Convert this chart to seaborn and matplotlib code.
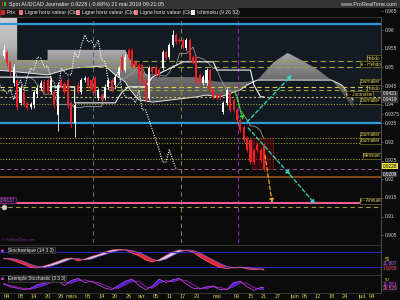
import numpy as np
import pandas as pd
import matplotlib
matplotlib.use("Agg")
import matplotlib.pyplot as plt
import matplotlib.colors as mcolors
import matplotlib.path as mpath
import matplotlib.transforms as mtrans
from matplotlib.patches import Rectangle, FancyArrowPatch
import seaborn as sns

# ---------------- data ----------------
dates = pd.bdate_range("2019-02-01", "2019-07-05")

opens = [0.9531, 0.9541, 0.9515, 0.9458, 0.9466, 0.9405, 0.9434, 0.9405, 0.9394, 0.9399,
         0.9429, 0.9445, 0.9461, 0.9466, 0.9434, 0.9434, 0.9372, 0.9466, 0.9456, 0.9466,
         0.9405, 0.9351, 0.9453, 0.9434, 0.9466, 0.9472, 0.9466, 0.9472, 0.9418, 0.9426,
         0.9418, 0.9448, 0.9466, 0.9453, 0.9480, 0.9528, 0.9493, 0.9547, 0.9547, 0.9515,
         0.9507, 0.9507, 0.9466, 0.9418, 0.9498, 0.9501, 0.9493, 0.9498, 0.9541, 0.9528,
         0.9560, 0.9587, 0.9574, 0.9574, 0.9552, 0.9574, 0.9528, 0.9528, 0.9480, 0.9458,
         0.9458, 0.9493, 0.9440, 0.9426, 0.9426, 0.9381, 0.9405, 0.9431, 0.9413, 0.9386,
         0.9359, 0.9340, 0.9311, 0.9306, 0.9279, 0.9292, 0.9279, 0.9292]
closes = [0.9547, 0.9512, 0.9488, 0.9501, 0.9394, 0.9445, 0.9402, 0.9391, 0.9402, 0.9434,
          0.9445, 0.9458, 0.9434, 0.9434, 0.9466, 0.9399, 0.9453, 0.9450, 0.9434, 0.9397,
          0.9351, 0.9399, 0.9434, 0.9466, 0.9472, 0.9450, 0.9440, 0.9431, 0.9440, 0.9413,
          0.9448, 0.9466, 0.9440, 0.9474, 0.9498, 0.9493, 0.9528, 0.9525, 0.9501, 0.9504,
          0.9472, 0.9458, 0.9413, 0.9498, 0.9488, 0.9480, 0.9480, 0.9541, 0.9525, 0.9560,
          0.9587, 0.9568, 0.9572, 0.9555, 0.9574, 0.9520, 0.9515, 0.9461, 0.9458, 0.9474,
          0.9493, 0.9440, 0.9421, 0.9418, 0.9418, 0.9405, 0.9440, 0.9386, 0.9386, 0.9359,
          0.9332, 0.9306, 0.9279, 0.9246, 0.9246, 0.9279, 0.9252, 0.9228]
highs = [0.9560, 0.9548, 0.9520, 0.9510, 0.9470, 0.9452, 0.9440, 0.9410, 0.9408, 0.9440,
         0.9452, 0.9465, 0.9468, 0.9472, 0.9472, 0.9440, 0.9460, 0.9472, 0.9462, 0.9472,
         0.9410, 0.9405, 0.9460, 0.9472, 0.9478, 0.9478, 0.9472, 0.9478, 0.9446, 0.9432,
         0.9455, 0.9472, 0.9472, 0.9480, 0.9505, 0.9535, 0.9535, 0.9553, 0.9553, 0.9521,
         0.9513, 0.9513, 0.9472, 0.9504, 0.9504, 0.9507, 0.9499, 0.9547, 0.9547, 0.9566,
         0.9600, 0.9593, 0.9580, 0.9580, 0.9580, 0.9580, 0.9534, 0.9534, 0.9486, 0.9480,
         0.9499, 0.9499, 0.9446, 0.9432, 0.9432, 0.9411, 0.9446, 0.9437, 0.9419, 0.9392,
         0.9365, 0.9346, 0.9317, 0.9312, 0.9285, 0.9298, 0.9285, 0.9298]
lows = [0.9525, 0.9505, 0.9480, 0.9450, 0.9385, 0.9398, 0.9395, 0.9385, 0.9388, 0.9392,
        0.9422, 0.9440, 0.9428, 0.9428, 0.9428, 0.9392, 0.9330, 0.9444, 0.9428, 0.9390,
        0.9340, 0.9313, 0.9428, 0.9428, 0.9460, 0.9444, 0.9434, 0.9424, 0.9412, 0.9406,
        0.9412, 0.9442, 0.9434, 0.9446, 0.9474, 0.9487, 0.9487, 0.9519, 0.9495, 0.9498,
        0.9466, 0.9452, 0.9407, 0.9412, 0.9482, 0.9474, 0.9474, 0.9492, 0.9519, 0.9522,
        0.9554, 0.9562, 0.9566, 0.9549, 0.9546, 0.9514, 0.9509, 0.9455, 0.9452, 0.9452,
        0.9452, 0.9434, 0.9415, 0.9412, 0.9412, 0.9375, 0.9399, 0.9380, 0.9380, 0.9353,
        0.9326, 0.9300, 0.9273, 0.9240, 0.9240, 0.9273, 0.9246, 0.9222]

# Ichimoku cloud (trading-day index, Senkou A, Senkou B)
cloud_idx = [-2, 4, 4, 13, 13, 20, 30, 33, 36, 37, 39, 40, 44, 57, 60, 64, 70, 72, 75, 80,
             84, 88, 93, 97, 100, 103.4]
span_a = [0.9641, 0.9641, 0.9520, 0.9520, 0.9547, 0.9547, 0.9547, 0.9547, 0.9547, 0.9528,
          0.9501, 0.9493, 0.9474, 0.9474, 0.9466, 0.9461, 0.9461, 0.9461, 0.9466, 0.9515,
          0.9539, 0.9520, 0.9493, 0.9466, 0.9434, 0.9391]
span_b = [0.9493, 0.9488, 0.9488, 0.9480, 0.9480, 0.9498, 0.9504, 0.9480, 0.9461, 0.9445,
          0.9423, 0.9413, 0.9407, 0.9421, 0.9426, 0.9421, 0.9440, 0.9453, 0.9466, 0.9466,
          0.9466, 0.9466, 0.9466, 0.9466, 0.9453, 0.9413]
kijun_idx = [-2, 14, 14, 21, 21, 33, 35, 37, 42, 44, 47, 50, 53, 62, 63, 73, 74, 76, 77]
kijun_val = [0.9474, 0.9474, 0.9448, 0.9448, 0.9405, 0.9405, 0.9434, 0.9448, 0.9448, 0.9474,
             0.9488, 0.9501, 0.9515, 0.9515, 0.9493, 0.9493, 0.9453, 0.9421, 0.9421]

# Stochastique (14 3 3)
stoch_idx = [0, 2, 4, 6, 8, 10, 12, 14, 16, 18, 20, 22, 24, 26, 28, 30, 32, 34, 36, 38,
             40, 42, 44, 46, 48, 50, 52, 54, 56, 58, 60, 62, 64, 66, 68, 70, 72, 74, 76, 77]
stoch_k = [54, 50, 40, 30, 18, 16, 24, 32, 42, 52, 56, 44, 52, 62, 70, 80, 88, 90, 88, 76,
           64, 48, 40, 50, 66, 80, 88, 86, 80, 60, 44, 30, 18, 14, 18, 20, 12, 10, 12, 7.03]
stoch_d = [52, 54, 50, 42, 30, 22, 18, 24, 32, 42, 52, 54, 48, 52, 62, 70, 80, 86, 89, 86,
           78, 66, 52, 44, 52, 66, 80, 88, 86, 76, 62, 48, 34, 22, 16, 18, 18, 14, 12, 11.8]
# Exemple Stochastic (3 3 3)
ex_a = [55, 30, 20, 10, 20, 45, 55, 85, 70, 40, 75, 90, 60, 70, 45, 20, 10, 40, 70, 85,
        40, 10, 35, 85, 60, 80, 90, 50, 20, 15, 30, 35, 10, 10, 60, 70, 30, 5, 25, 26.5]
ex_b = [45, 40, 28, 18, 12, 25, 40, 60, 78, 60, 55, 75, 80, 65, 60, 40, 20, 20, 45, 70,
        70, 30, 20, 55, 75, 65, 80, 75, 45, 20, 18, 30, 25, 12, 30, 60, 55, 25, 12, 11.3]

# horizontal levels: price, label
levels = [(0.9517, "Hebdo"), (0.9501, "k - Hebdo"), (0.9448, "Journalier"), (0.9440, "Hebdo"),
          (0.9421, "k - Journalier"), (0.9402, "Journalier"), (0.9311, "Journalier"),
          (0.9297, "Journalier"), (0.9255, "Mensuel")]
blue_levels = [0.9617, 0.9350]
last_price = 0.9228
brown_level = 0.9206
annual_level = 0.9137
annual_k_level = 0.9126
vlines_idx = [26.4, 52.5, 69.3]

# drawn objects (trading-day index, price)
green_arrow = [(68.5, 0.9434), (70.8, 0.9359)]
cyan_up = [(72.0, 0.9354), (85.3, 0.9480)]
cyan_down = [(72.3, 0.9338), (84.7, 0.9212), (92.1, 0.9134)]
orange_arrow = [(77.3, 0.9265), (79.4, 0.9137)]
red_box = (73.5, 0.9228, 6.2, 0.0083)

tick_dates = ["2019-02-04", "2019-02-08", "2019-02-14", "2019-02-20", "2019-02-26", "2019-03-01",
              "2019-03-08", "2019-03-14", "2019-03-20", "2019-03-26", "2019-04-01", "2019-04-05",
              "2019-04-11", "2019-04-17", "2019-04-23", "2019-05-01", "2019-05-09", "2019-05-15",
              "2019-05-21", "2019-05-27", "2019-06-03", "2019-06-06", "2019-06-12", "2019-06-18",
              "2019-06-24", "2019-07-01", "2019-07-04"]
tick_labels = ["04", "08", "14", "20", "26", "mars", "08", "14", "20", "26", "avr.", "05", "11",
               "17", "23", "mai", "09", "15", "21", "27", "juin", "06", "12", "18", "24", "juil.", "04"]
price_ticks = [0.965, 0.96, 0.955, 0.95, 0.945, 0.94, 0.9375, 0.935, 0.93, 0.925, 0.92,
               0.915, 0.91, 0.905]
# boxed price labels: position, text
price_boxes = [(0.9429, "0.9421", "#3a3a3a", "#f0f0f0"), (0.9413, "0.9419", "#3a3a3a", "#f0f0f0"),
               (0.9235, "0.9228", "#f0e040", "#000000"), (0.9213, "0.9209", "#3a3a3a", "#f0f0f0")]

# ---------------- style ----------------
sns.set_theme(style="dark")
plt.rcParams['font.family'] = ['Liberation Sans', 'DejaVu Sans']
BG = "#0b0b0b"
fig = plt.figure(figsize=(4, 3), dpi=100, facecolor=BG)

def fy(py):
    return 1 - py / 300.0

W = 381 / 400.0
ax = fig.add_axes([0, fy(243), W, (243 - 17) / 300.0])
ax2 = fig.add_axes([0, fy(274), W, 28 / 300.0])
ax3 = fig.add_axes([0, fy(292), W, 16 / 300.0])
XL = (-1.07, 111.6)
for a in (ax, ax2, ax3):
    a.set_facecolor(BG)
    a.set_xlim(*XL)
    a.set_xticks([])
    a.set_yticks([])
    a.grid(False)
    for s in a.spines.values():
        s.set_visible(False)

YL = (0.90293, 0.96352)
ax.set_ylim(*YL)
idx = np.arange(len(closes))

# shaded band between the blue lines
ax.axhspan(blue_levels[1], blue_levels[0], color="#141a22", zorder=0)

# cloud with gradient
poly = ax.fill_between(cloud_idx, span_a, span_b, color="none", lw=0, zorder=1)
clip = mpath.Path.make_compound_path(*poly.get_paths())
grad = np.linspace(0, 1, 256).reshape(-1, 1)
cmap = mcolors.LinearSegmentedColormap.from_list("cl", ["#3a3a3a", "#6e6e6e", "#b4b4b4", "#d4d4d4"])
im = ax.imshow(grad, extent=[-2, 105, 0.938, 0.9645], origin="lower", aspect="auto",
               cmap=cmap, zorder=1, interpolation="bilinear")
im.set_clip_path(clip, transform=ax.transData)
ax.set_xlim(*XL); ax.set_ylim(*YL)
sns.lineplot(x=cloud_idx, y=span_b, ax=ax, color="#e8e8e8", lw=0.7, sort=False,
             estimator=None, zorder=2)

# levels
blend = mtrans.blended_transform_factory(ax.transAxes, ax.transData)
for b in blue_levels:
    ax.axhline(b, color="#2d9ad6", lw=1.6, zorder=3)
olive_styles = [(0, (5, 3)), (0, (5, 3)), (0, (4, 3)), (0, (4, 3)), (0, (2, 2)), (0, (1, 1.5)),
                (0, (1, 1.5)), (0, (1, 1.5)), (0, (1, 1.5))]
olive_cols = ["#a0a030", "#a0a030", "#d8d040", "#a0a030", "#c8c070", "#a0a030", "#a0a030",
              "#a0a030", "#a0a030"]
label_dx = [0, 0, 0, 0, 0.02, 0, 0, 0, 0]
label_dy = [0.0008, 0.0008, 0.0013, 0.0004, 0.0007, 0.0008, 0.0008, 0.0006, 0.0008]
for (p, lab), ls, c, dx, dy in zip(levels, olive_styles, olive_cols, label_dx, label_dy):
    ax.axhline(p, color=c, lw=0.8, ls=ls, zorder=2)
    ax.text(0.999 - dx, p + dy, lab, transform=blend, ha="right", va="center", fontsize=3.3,
            color="#e4dc6c", zorder=8,
            bbox=dict(boxstyle="square,pad=0.1", fc="black", ec="#7a7228", lw=0.5))
ax.axhline(last_price, color="#9a5aa0", lw=0.7, ls=(0, (4, 3)), zorder=2)
ax.axhline(brown_level, color="#a0561a", lw=1.1, zorder=2)
ax.axhline(annual_level, color="#ec5c98", lw=1.5, zorder=3)
ax.axhline(annual_k_level, color="#a0a030", lw=0.8, ls=(0, (4, 3)), zorder=2)
ax.text(0.999, annual_level + 0.0006, "k - Annuel", transform=blend, ha="right", va="center",
        fontsize=3.3, color="#e4dc6c", zorder=8,
        bbox=dict(boxstyle="square,pad=0.1", fc="black", ec="#7a7228", lw=0.5))
ax.text(-0.9, annual_level + 0.0007, "0.9137", ha="left", va="center", fontsize=3.4,
        color="#d07af0", zorder=8,
        bbox=dict(boxstyle="square,pad=0.12", fc="#1a0820", ec="#8a2a9a", lw=0.5))
ax.scatter([0.1], [annual_k_level], s=14, color="#d0d0d0", edgecolor="#909090", lw=0.3, zorder=8)

# vertical dashed lines
for v, c in zip(vlines_idx, ["#4a6a8a", "#8a8040", "#9a20b0"]):
    ax.axvline(v, color=c, lw=0.8, ls=(0, (4, 3)), zorder=2)

# Tenkan (computed from the candles), Kijun
tenkan = (pd.Series(highs).rolling(9, min_periods=1).max() +
          pd.Series(lows).rolling(9, min_periods=1).min()) / 2
sns.lineplot(x=idx, y=tenkan.values, ax=ax, color="#9a9a9a", lw=0.6, estimator=None, zorder=4)
sns.lineplot(x=kijun_idx, y=kijun_val, ax=ax, color="#f4f4f4", lw=0.8, sort=False,
             estimator=None, zorder=4)

# candles
up = np.array(closes) >= np.array(opens)
cols = np.where(up, "#ffffff", "#ee2026")
ax.vlines(idx, lows, highs, colors=cols, lw=0.6, zorder=5)
body_b = np.minimum(opens, closes)
body_h = np.maximum(np.abs(np.array(closes) - np.array(opens)), 0.00012)
ax.bar(idx, body_h, bottom=body_b, width=0.62, color=cols, lw=0, zorder=6)

# Chikou span
sns.lineplot(x=idx - 26, y=closes, ax=ax, color="white", lw=0.8, ls=(0, (1, 1.2)),
             estimator=None, zorder=5)

# drawings
def arrow(p0, p1, col):
    ax.add_patch(FancyArrowPatch(p0, p1, arrowstyle="-|>,head_length=2.2,head_width=1.2",
                                 color=col, lw=0.9, ls=(0, (3, 2)), mutation_scale=1, zorder=7,
                                 shrinkA=0, shrinkB=0))
arrow(green_arrow[0], green_arrow[1], "#20e020")
arrow(cyan_up[0], cyan_up[1], "#30d8c0")
arrow(cyan_down[0], cyan_down[1], "#30d8c0")
arrow(cyan_down[1], cyan_down[2], "#30d8c0")
arrow(orange_arrow[0], orange_arrow[1], "#f0a020")
ax.add_patch(Rectangle(red_box[:2], red_box[2], red_box[3], fc="#5a0a0a", ec="#a02020",
                       lw=0.6, alpha=0.55, zorder=4))
ax.text(0.005, 0.005, "© ProRealTime.com", transform=ax.transAxes, fontsize=2.6,
        color="#7a3a9a", va="bottom", ha="left")

# ---- Stochastique (14 3 3) ----
ax2.axhline(80, color="#2a2ab0", lw=0.8)
ax2.axhline(20, color="#2a2ab0", lw=0.8)
sk = np.array(stoch_k, float); sd = np.array(stoch_d, float)
ax2.fill_between(stoch_idx, sk, sd, where=sk >= sd, interpolate=True, color="#d8d0f4", lw=0)
ax2.fill_between(stoch_idx, sk, sd, where=sk < sd, interpolate=True, color="#e02838", lw=0)
sns.lineplot(x=stoch_idx, y=stoch_d, ax=ax2, color="#8a50c8", lw=0.6, estimator=None)
sns.lineplot(x=stoch_idx, y=stoch_k, ax=ax2, color="#ff5a6a", lw=0.5, estimator=None)
ax2.set_xlim(*XL); ax2.set_ylim(-8, 104)
ax2.text(0.003, 0.93, "■", transform=ax2.transAxes, fontsize=3.6, color="#e040e0", va="top")
ax2.text(0.022, 0.93, "Stochastique (14 3 3)", transform=ax2.transAxes, fontsize=3.4,
         color="#e8e8e8", va="top",
         bbox=dict(boxstyle="square,pad=0.1", fc="#1a1a1a", ec="#505050", lw=0.4))

# ---- Exemple Stochastic (3 3 3) ----
ea = np.array(ex_a, float); eb = np.array(ex_b, float)
ax3.fill_between(stoch_idx, ea, eb, where=ea >= eb, interpolate=True, color="#2a2ad0", lw=0)
sns.lineplot(x=stoch_idx, y=ex_b, ax=ax3, color="#a020c0", lw=0.6, estimator=None)
sns.lineplot(x=stoch_idx, y=ex_a, ax=ax3, color="#c040e0", lw=0.6, estimator=None)
ax3.set_xlim(*XL); ax3.set_ylim(-7, 107)
ax3.text(0.003, 0.97, "■", transform=ax3.transAxes, fontsize=3.6, color="#e040e0", va="top")
ax3.text(0.022, 0.97, "Exemple Stochastic (3 3 3)", transform=ax3.transAxes, fontsize=3.4,
         color="#e8e8e8", va="top",
         bbox=dict(boxstyle="square,pad=0.1", fc="#1a1a1a", ec="#505050", lw=0.4))

for a in (ax, ax2, ax3):
    a.set_ylabel(""); a.set_xlabel("")
    if a.get_legend():
        a.get_legend().remove()

# x tick labels
tpos = [dates.get_loc(pd.Timestamp(d)) for d in tick_dates]
ax3.set_xticks(tpos)
ax3.set_xticklabels(tick_labels)
ax3.tick_params(axis="x", length=0, pad=1.2, labelsize=4.0, labelcolor="#d8cf50")

# separators
for py in [17, 244.5, 275, 292.5]:
    fig.add_artist(plt.Line2D([0, W], [fy(py), fy(py)], color="#3a3a3a", lw=0.6))
fig.add_artist(plt.Line2D([W, W], [fy(17), fy(293)], color="#5a5a5a", lw=0.6))

# right price axis
tr = mtrans.blended_transform_factory(fig.transFigure, ax.transData)
for p in price_ticks:
    lab = ("%.4f" % p).rstrip("0")
    ax.text(W + 0.01, p, lab, transform=tr, fontsize=3.5, color="#cfcfcf", va="center",
            ha="left", clip_on=False)
    ax.plot([W, W + 0.006], [p, p], transform=tr, color="#888888", lw=0.4, clip_on=False)
for p, lab, fc, tc in price_boxes:
    ax.text(W + 0.004, p, lab, transform=tr, fontsize=3.4, color=tc, va="center", ha="left",
            clip_on=False, zorder=9, bbox=dict(boxstyle="square,pad=0.1", fc=fc, ec="none"))

# stochastic right labels
tr2 = mtrans.blended_transform_factory(fig.transFigure, ax2.transData)
ax2.text(W + 0.01, 50, "50", transform=tr2, fontsize=3.4, color="#d8d040", va="center", clip_on=False)
ax2.text(W + 0.004, 34, "11.807", transform=tr2, fontsize=3.4, color="#c050ff", va="center",
         clip_on=False, bbox=dict(boxstyle="square,pad=0.1", fc="#151515", ec="none"))
ax2.text(W + 0.004, 16, "7.0265", transform=tr2, fontsize=3.4, color="#ff4060", va="center",
         clip_on=False, bbox=dict(boxstyle="square,pad=0.1", fc="#151515", ec="none"))
tr3 = mtrans.blended_transform_factory(fig.transFigure, ax3.transData)
ax3.text(W + 0.01, 80, "50", transform=tr3, fontsize=3.2, color="#d8d040", va="center", clip_on=False)
ax3.text(W + 0.004, 48, "11.261", transform=tr3, fontsize=3.4, color="#e040ff", va="center",
         clip_on=False, bbox=dict(boxstyle="square,pad=0.1", fc="#151515", ec="none"))
ax3.text(W + 0.004, 15, "26.529", transform=tr3, fontsize=3.4, color="#ff60c0", va="center",
         clip_on=False, bbox=dict(boxstyle="square,pad=0.1", fc="#151515", ec="none"))

# header
fig.add_artist(Rectangle((0, fy(8)), 1, 8 / 300, transform=fig.transFigure, fc="#333333", ec="none"))
fig.add_artist(Rectangle((0, fy(17)), 237 / 400, 9 / 300, transform=fig.transFigure, fc="#161616",
                         ec="#4a4a4a", lw=0.5))
fig.add_artist(Rectangle((1.5 / 400, fy(6)), 1.5 / 400, 4 / 300, transform=fig.transFigure,
                         fc="#e02020", ec="none"))
fig.add_artist(Rectangle((4 / 400, fy(6)), 1.5 / 400, 4 / 300, transform=fig.transFigure,
                         fc="#20c020", ec="none"))
fig.text(9 / 400, fy(4.2), "Spot AUDCAD Journalier 0.9228 (-0.68%) 21 mai 2019 09:21:05",
         fontsize=3.9, color="#f0f0f0", va="center")
fig.text(397 / 400, fy(4.5), "www.ProRealTime.com", fontsize=4.0, color="#e8e8e8",
         va="center", ha="right")
leg = [(1, "#e02020", "Prix"), (19, "#f07080", "Ligne horiz valeur (Clo)"),
       (76, "#f07080", "Ligne horiz valeur (Clo)"), (134, "#f07080", "Ligne horiz valeur (Clo)"),
       (191, "#f0f0f0", "Ichimoku (9 26 52)")]
for x0, c, t in leg:
    fig.add_artist(Rectangle((x0 / 400, fy(15)), 3.5 / 400, 5 / 300, transform=fig.transFigure,
                             fc=c, ec="none"))
    fig.text((x0 + 6) / 400, fy(12.5), t, fontsize=3.7, color="#e8e8e8", va="center")

fig.savefig("out.png", dpi=100, facecolor=BG)
